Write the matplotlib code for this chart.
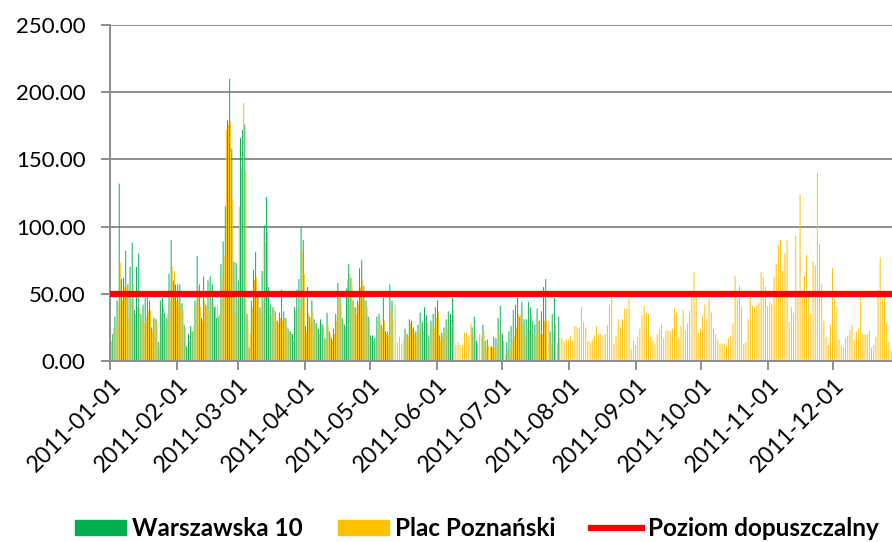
import numpy as np
import pandas as pd
import matplotlib
matplotlib.use("Agg")
import matplotlib.pyplot as plt
from matplotlib.patches import Patch
from matplotlib.lines import Line2D
from matplotlib.transforms import ScaledTranslation

plt.rcParams["font.family"] = ["Lato", "DejaVu Sans"]

# PM10, średnie dobowe 2011
warszawska_10 = [
    27, 20, 33, 45, 132, 61, 62, 82, 57, 70, 88, 38, 70, 80, 35, 42, 47, 52, 45, 25,
    32, 31, 14, 45, 47, 36, 32, 65, 90, 60, 57, 57, 57, 43, 27, 11, 20, 26, 22, 45,
    78, 57, 32, 63, 42, 60, 63, 57, 40, 32, 33, 72, 89, 115, 179, 210, 158, 74, 73, 60,
    166, 172, 176, 35, 10, 45, 68, 81, 50, 40, 67, 101, 122, 55, 42, 40, 37, 30, 36, 53,
    37, 32, 24, 22, 20, 40, 53, 61, 100, 90, 26, 55, 33, 45, 31, 28, 24, 31, 27, 17,
    36, 22, 17, 24, 35, 58, 47, 32, 27, 54, 72, 62, 45, 40, 45, 69, 75, 56, 45, 33,
    19, 19, 17, 33, 35, 27, 47, 22, 22, 57, 45, None, None, None, None, None, 24, 20, 31, 30,
    25, 22, 27, 36, 29, 40, 34, 19, 30, 35, 40, 45, 19, 21, 25, 31, 37, 35, 47, None,
    None, None, None, None, None, None, None, 25, 33, 15, None, None, 27, 15, 16, None, 11, 18, 17, 32,
    41, 20, None, 14, 22, 26, 38, 42, 47, 33, 44, 31, 31, 44, 40, 30, 27, 39, 30, 37,
    55, 61, None, 22, 35, 47, None, 33,
]

plac_poznanski = [
    15, 25, 25, 40, 73, 45, 55, 55, 32, 45, 57, 35, 40, 40, 30, 28, 32, 37, 38, 22,
    32, 28, 12, 35, 40, 30, 35, 45, 70, 67, 45, 45, 40, 38, 25, 10, 15, 22, 26, 42,
    51, 40, 30, 45, 40, 37, 45, 42, 41, 42, 35, 63, 78, 172, 176, 178, 120, 35, 45, 115,
    144, 192, 141, 30, 20, 40, 60, 62, 47, 35, 45, 89, 96, 40, 35, 38, 30, 28, 32, 30,
    32, 25, 22, 20, 15, 37, 38, 40, 82, 65, 22, 35, 30, 36, 28, 25, 20, 28, 25, 15,
    27, 20, 15, 20, 30, 47, 42, 28, 25, 60, 65, 58, 40, 35, 42, 55, 60, 45, 40, 30,
    17, 15, 14, 25, 30, 24, 30, 20, 18, 38, 31, 42, 14, 18, 13, 16, 20, 18, 28, 24,
    20, 18, 22, 27, 22, 32, 28, 15, 25, 25, 32, 37, 15, 18, 20, 25, 28, 25, 38, 12,
    14, 12, 12, 21, 21, 19, 28, 22, 20, 13, 20, 19, 22, 10, 12, 10, 10, 10, 10, 21,
    20, 15, 5, 8, 8, 15, 18, 25, 35, 34, 27, 18, 25, 23, 34, 20, 18, 30, 20, 20,
    30, 30, 30, 12, 22, 27, 14, 17, 17, 15, 16, 16, 19, 15, 26, 25, 25, 40, 29, 25,
    15, 14, 16, 19, 26, 20, 20, 19, 20, 27, 42, 47, 13, 19, 31, 25, 31, 39, 39, 46,
    9, 15, 12, 18, 24, 34, 41, 36, 35, 18, 15, 13, 20, 24, 27, 17, 22, 23, 22, 24,
    39, 36, 17, 26, 38, 23, 28, 37, 48, 66, 48, 21, 24, 34, 42, 31, 46, 36, 24, 20,
    16, 13, 13, 13, 11, 17, 19, 28, 63, 46, 56, 40, 13, 14, 31, 47, 41, 40, 41, 43,
    66, 62, 55, 41, 44, 42, 62, 72, 86, 90, 67, 80, 90, 29, 40, 36, 93, 48, 124, 48,
    63, 79, 48, 35, 74, 71, 140, 87, 57, 30, 18, 12, 27, 69, 46, 40, 16, 11, 10, 17,
    19, 23, 27, 16, 22, 24, 48, 20, 20, 20, 23, 10, 12, 18, 53, 77, 46, 48, 28, 14,
    8,
]

poziom_dopuszczalny = 50
y_ticks = [0, 50, 100, 150, 200, 250]

start = pd.Timestamp("2011-01-01")
months = pd.date_range("2011-01-01", periods=12, freq="MS")
month_pos = [(m - start).days for m in months]
month_labels = [m.strftime("%Y-%m-%d") for m in months]

g = np.array(warszawska_10, dtype=float)
p = np.array(plac_poznanski, dtype=float)

fig = plt.figure(figsize=(8.92, 5.42), dpi=100)
ax = fig.add_axes([110 / 892, 1 - 361 / 542, 1 - 110 / 892, (361 - 25) / 542])

ax.bar(np.arange(len(g)) + 0.26, g, width=0.44, color="#00B050", linewidth=0, snap=False, zorder=2)
ax.bar(np.arange(len(p)) + 0.74, p, width=0.44, color="#FFC000", linewidth=0, snap=False, zorder=2)
ax.axhline(poziom_dopuszczalny, color="#FF0000", lw=4.5, zorder=3)

ax.set_xlim(0, 782 / 2.165)
ax.set_ylim(0, 250)
ax.set_yticks(y_ticks)
ax.set_yticklabels([f"{v:.2f}" for v in y_ticks], fontsize=16)
ax.set_xticks(month_pos)
ax.set_xticklabels(month_labels, rotation=45, ha="right", va="top",
                   rotation_mode="anchor", fontsize=16.5)
for lbl in ax.get_xticklabels():
    lbl.set_transform(lbl.get_transform() + ScaledTranslation(4 / 72, -20 / 72, fig.dpi_scale_trans))

ax.grid(axis="y", color="#8E8E8E", lw=1.4, zorder=0)
for s in ["top", "right"]:
    ax.spines[s].set_visible(False)
for s in ["left", "bottom"]:
    ax.spines[s].set_color("#8E8E8E")
    ax.spines[s].set_linewidth(1.4)
ax.tick_params(axis="both", color="#8E8E8E", width=1.4, length=6.5, labelcolor="black")
ax.tick_params(axis="y", pad=11)
ax.tick_params(axis="x", pad=3)

handles = [
    Patch(color="#00B050", label="Warszawska 10"),
    Patch(color="#FFC000", label="Plac Poznański"),
    Line2D([0], [0], color="#FF0000", lw=4.5, label="Poziom dopuszczalny"),
]
fig.legend(handles=handles, loc="center", bbox_to_anchor=(0.535, 0.024), ncol=3, frameon=False,
           prop={"weight": "bold", "size": 17.5}, handlelength=2.1, handleheight=0.58,
           handletextpad=0.25, columnspacing=1.45)

fig.savefig("out.png", dpi=100)
